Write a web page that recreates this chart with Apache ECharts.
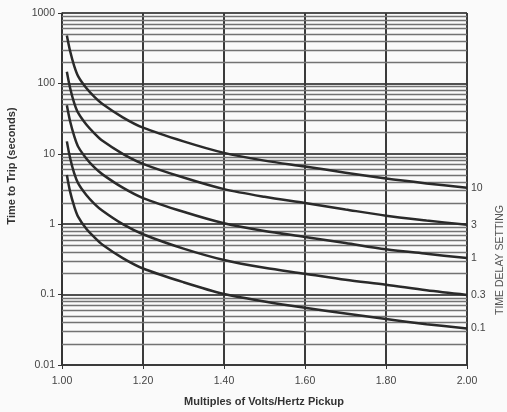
<!DOCTYPE html>
<html><head><meta charset="utf-8">
<script src="https://cdn.jsdelivr.net/npm/echarts@6/dist/echarts.min.js"></script>
<style>html,body{margin:0;padding:0;background:#fafafa}#c{width:507px;height:412px}</style>
</head><body><div id="c"></div>
<script>
// Multiples of Volts/Hertz pickup (x)
const multiples = [1.012, 1.02, 1.03, 1.04, 1.06, 1.08, 1.10, 1.15, 1.20, 1.30, 1.40, 1.50, 1.60, 1.70, 1.80, 1.90, 2.00];
// Time to trip (seconds) for each time delay setting
const td10 = [479, 288, 178, 126, 86, 64.5, 51, 33, 23.5, 15.0, 10.3, 8.0, 6.6, 5.4, 4.45, 3.8, 3.3];
const td3  = [146, 86, 53, 38, 26, 19.5, 15.3, 10, 7.2, 4.6, 3.15, 2.45, 2.0, 1.62, 1.32, 1.13, 0.98];
const td1  = [49, 29, 18, 12.6, 8.6, 6.4, 5.1, 3.3, 2.35, 1.5, 1.03, 0.8, 0.66, 0.54, 0.44, 0.38, 0.33];
const td03 = [15, 8.7, 5.3, 3.8, 2.6, 1.95, 1.55, 1.0, 0.72, 0.45, 0.31, 0.24, 0.198, 0.162, 0.138, 0.115, 0.099];
const td01 = [5.0, 2.9, 1.8, 1.27, 0.86, 0.65, 0.51, 0.33, 0.235, 0.15, 0.102, 0.08, 0.065, 0.054, 0.045, 0.038, 0.033];
const settingLabels = ['10', '3', '1', '0.3', '0.1'];
const curves = [td10, td3, td1, td03, td01];
const yMin = 0.01, yMax = 1000;
const xMin = 1.0, xMax = 2.0, xStep = 0.2;

// minor log grid values (2..9 per decade)
const minorGrid = [];
for (let e = -2; e < 3; e++) for (let k = 2; k <= 9; k++) minorGrid.push(+(k * Math.pow(10, e)).toPrecision(3));

const font = '"Liberation Sans", Arial, sans-serif';
const chart = echarts.init(document.getElementById('c'), null, {renderer: 'canvas'});

const series = [{
  type: 'line', data: [], z: 1, silent: true,
  markLine: {
    silent: true, symbol: 'none', label: {show: false}, animation: false,
    lineStyle: {color: '#727272', width: 1.3, type: 'solid'},
    data: minorGrid.map(v => ({yAxis: v}))
  }
}];
curves.forEach((c, i) => {
  series.push({
    type: 'line', name: settingLabels[i], z: 5,
    data: multiples.map((m, j) => [m, c[j]]),
    smooth: 0.3, showSymbol: false, symbol: 'none',
    lineStyle: {color: '#2a2a2a', width: 2.5},
    endLabel: {show: true, formatter: settingLabels[i], color: '#444', fontSize: 10.5, fontFamily: font, distance: 4},
    animation: false
  });
});

chart.setOption({
  backgroundColor: '#fafafa',
  animation: false,
  grid: {left: 62, right: 40, top: 13, bottom: 47},
  xAxis: {
    type: 'value', min: xMin, max: xMax, interval: xStep,
    axisLine: {lineStyle: {color: '#333', width: 1.5}},
    axisTick: {show: true, length: 4, lineStyle: {color: '#333'}},
    axisLabel: {formatter: v => v.toFixed(2), fontFamily: font, fontSize: 10.5, color: '#444', margin: 11},
    splitLine: {show: true, lineStyle: {color: '#3a3a3a', width: 2}}
  },
  yAxis: {
    type: 'log', logBase: 10, min: yMin, max: yMax,
    axisLine: {show: true, lineStyle: {color: '#333', width: 1.5}},
    axisTick: {show: true, length: 4, lineStyle: {color: '#333'}},
    axisLabel: {formatter: v => String(+v.toPrecision(3)), fontFamily: font, fontSize: 10.5, color: '#444', margin: 7},
    splitLine: {show: true, lineStyle: {color: '#505050', width: 2}},
    minorSplitLine: {show: false}
  },
  graphic: [{
    type: 'text', x: 12, y: 166, rotation: Math.PI / 2,
    style: {text: 'Time to Trip (seconds)', fill: '#333', font: 'bold 11px ' + font, align: 'center', verticalAlign: 'middle'}
  }, {
    type: 'text', x: 264, y: 402,
    style: {text: 'Multiples of Volts/Hertz Pickup', fill: '#333', font: 'bold 11px ' + font, align: 'center', verticalAlign: 'middle'}
  }, {
    type: 'text', x: 500, y: 260, rotation: Math.PI / 2,
    style: {text: 'TIME DELAY SETTING', fill: '#555', font: '10.5px ' + font, align: 'center', verticalAlign: 'middle'}
  }],
  series: series
});
</script></body></html>
